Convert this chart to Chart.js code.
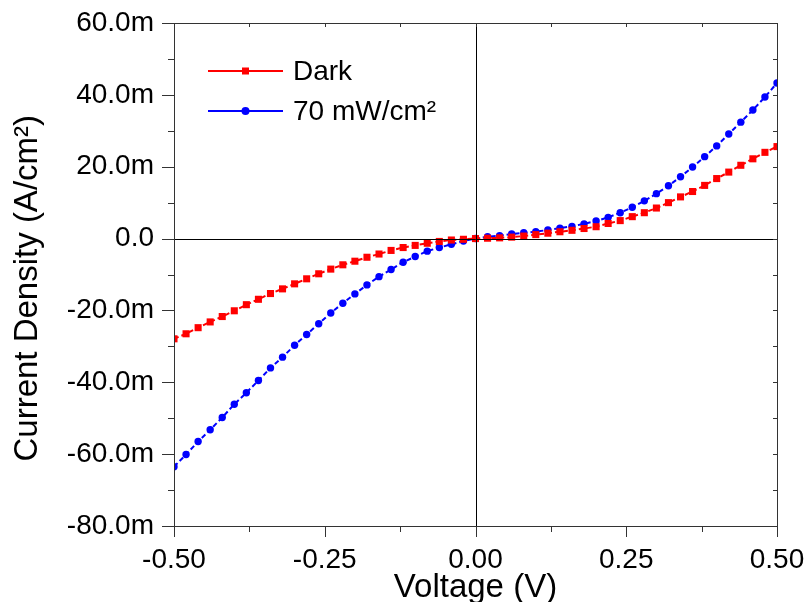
<!DOCTYPE html>
<html>
<head>
<meta charset="utf-8">
<script src="https://cdn.jsdelivr.net/npm/chart.js@4.4.0/dist/chart.umd.min.js"></script>
<style>
  html, body { margin: 0; padding: 0; background: #fff; }
  #wrap { width: 806px; height: 602px; }
</style>
</head>
<body>
<div id="wrap"><canvas id="ivChart" width="806" height="602"></canvas></div>
<script>
    "use strict";

    // Voltage (V), every 0.02 V
    var voltage = [];
    for (var i = 0; i <= 50; i++) voltage.push(Math.round((-0.5 + i * 0.02) * 100) / 100);

    // Current density in mA/cm2 (axis labels use the "m" suffix)
    var darkJ = [-27.9, -26.5, -24.8, -23.2, -21.7, -20.1, -18.4, -16.9, -15.3, -14.0,
                 -12.6, -11.2, -9.8, -8.5, -7.3, -6.3, -5.2, -4.3, -3.3, -2.5,
                 -1.9, -1.3, -0.8, -0.4, -0.2, 0.0,
                 0.1, 0.2, 0.4, 0.7, 1.1, 1.5, 1.9, 2.3, 2.8, 3.3,
                 4.2, 5.0, 6.1, 7.2, 8.5, 10.0, 11.6, 13.1, 14.8, 16.7,
                 18.5, 20.4, 22.2, 24.0, 25.6];
    var lightJ = [-63.5, -60.1, -56.5, -53.2, -49.8, -46.1, -42.9, -39.5, -36.0, -33.0,
                  -29.7, -26.7, -23.7, -20.7, -18.0, -15.4, -12.9, -10.6, -8.6, -6.6,
                  -5.0, -3.5, -2.5, -1.6, -0.7, 0.0,
                  0.5, 0.8, 1.3, 1.6, 1.9, 2.4, 2.9, 3.4, 4.1, 4.9,
                  5.9, 7.2, 8.7, 10.5, 12.5, 14.7, 17.2, 19.9, 22.8, 25.8,
                  29.1, 32.4, 35.8, 39.4, 43.3];

    var seriesNames = ["Dark", "70 mW/cm\u00B2"];
    var xTicks = [-0.5, -0.25, 0, 0.25, 0.5];
    var yTicks = [-80, -60, -40, -20, 0, 20, 40, 60];

    function toPoints(xs, ys) {
        return xs.map(function (x, k) { return {x: x, y: ys[k]}; });
    }

    // frame ticks, zero lines and legend
    var framePlugin = {
        id: "frame",
        afterDatasetsDraw: function (chart) {
            var ctx = chart.ctx;
            var a = chart.chartArea;
            var xs = chart.scales.x, ys = chart.scales.y;
            ctx.save();
            ctx.strokeStyle = "#000";
            ctx.lineWidth = 1;

            // zero lines
            var x0 = Math.round(xs.getPixelForValue(0)) + 0.5;
            var y0 = Math.round(ys.getPixelForValue(0)) + 0.5;
            ctx.beginPath();
            ctx.moveTo(x0, a.top); ctx.lineTo(x0, a.bottom);
            ctx.moveTo(a.left, y0); ctx.lineTo(a.right, y0);
            ctx.stroke();

            // border
            ctx.strokeStyle = "#333";
            ctx.strokeRect(Math.round(a.left) + 0.5, Math.round(a.top) + 0.5,
                Math.round(a.right - a.left), Math.round(a.bottom - a.top));

            ctx.beginPath();
            // x ticks
            for (var v = -0.5; v <= 0.5001; v += 0.125) {
                var px = Math.round(xs.getPixelForValue(v)) + 0.5;
                var major = Math.abs(v / 0.25 - Math.round(v / 0.25)) < 1e-6;
                var len = major ? 11 : 6;
                ctx.moveTo(px, a.bottom); ctx.lineTo(px, a.bottom + len);
                ctx.moveTo(px, a.top); ctx.lineTo(px, a.top + 4);
            }
            // y ticks
            for (var w = -80; w <= 60; w += 10) {
                var py = Math.round(ys.getPixelForValue(w)) + 0.5;
                var lenY = (w % 20 === 0) ? 12 : 6;
                ctx.moveTo(a.left - lenY, py); ctx.lineTo(a.left, py);
                ctx.moveTo(a.right, py); ctx.lineTo(a.right - 4, py);
            }
            ctx.stroke();

            // legend
            var rows = [
                {color: "#ff0000", style: "rect", y: 71},
                {color: "#0000ff", style: "circle", y: 111}
            ];
            ctx.font = "28px 'Liberation Sans', Arial, sans-serif";
            ctx.textBaseline = "middle";
            rows.forEach(function (r, k) {
                ctx.strokeStyle = r.color;
                ctx.fillStyle = r.color;
                ctx.lineWidth = 2;
                ctx.beginPath();
                ctx.moveTo(208, r.y); ctx.lineTo(283, r.y);
                ctx.stroke();
                if (r.style === "rect") {
                    ctx.fillRect(242, r.y - 3.5, 7, 7);
                } else {
                    ctx.beginPath();
                    ctx.arc(245.5, r.y, 4, 0, Math.PI * 2);
                    ctx.fill();
                }
                ctx.fillStyle = "#000";
                ctx.fillText(seriesNames[k], 293, r.y + 1);
            });
            ctx.restore();
        }
    };

    var ctx1 = document.getElementById("ivChart").getContext("2d");
    var ivChart = new Chart(ctx1, {
        type: "line",
        data: {
            datasets: [{
                    label: seriesNames[0],
                    data: toPoints(voltage, darkJ),
                    borderColor: "#ff0000",
                    backgroundColor: "#ff0000",
                    borderWidth: 2,
                    borderDash: [5, 3],
                    pointStyle: "rect",
                    pointRadius: 5,
                    pointBorderWidth: 0,
                    tension: 0
                },
                {
                    label: seriesNames[1],
                    data: toPoints(voltage, lightJ),
                    borderColor: "#0000ff",
                    backgroundColor: "#0000ff",
                    borderWidth: 2,
                    borderDash: [5, 3],
                    pointStyle: "circle",
                    pointRadius: 3.7,
                    pointBorderWidth: 0,
                    tension: 0
                }
            ]
        },
        options: {
            responsive: false,
            animation: false,
            layout: {padding: {top: 23, right: 29, left: 0, bottom: 0}},
            plugins: {
                legend: {display: false},
                tooltip: {enabled: false}
            },
            scales: {
                x: {
                    type: "linear",
                    min: -0.5,
                    max: 0.5,
                    grid: {display: false, drawTicks: true, tickLength: 17},
                    border: {display: false},
                    afterBuildTicks: function (s) {
                        s.ticks = xTicks.map(function (v) { return {value: v}; });
                    },
                    afterFit: function (s) { s.height = 76; },
                    ticks: {
                        color: "#000",
                        padding: 0,
                        maxRotation: 0,
                        font: {family: "'Liberation Sans', Arial", size: 28},
                        callback: function (v) { return Number(v).toFixed(2); }
                    },
                    title: {
                        display: true,
                        text: "Voltage (V)",
                        color: "#000",
                        padding: {top: 0, bottom: -6},
                        font: {family: "'Liberation Sans', Arial", size: 33}
                    }
                },
                y: {
                    type: "linear",
                    min: -80,
                    max: 60,
                    grid: {display: false, drawTicks: true, tickLength: 20},
                    border: {display: false},
                    afterBuildTicks: function (s) {
                        s.ticks = yTicks.map(function (v) { return {value: v}; });
                    },
                    afterFit: function (s) { s.width = 174; },
                    ticks: {
                        color: "#000",
                        padding: 0,
                        font: {family: "'Liberation Sans', Arial", size: 28},
                        callback: function (v) { return v === 0 ? "0.0" : Number(v).toFixed(1) + "m"; }
                    },
                    title: {
                        display: true,
                        text: "Current Density (A/cm\u00B2)   ",
                        color: "#000",
                        padding: {top: 8, bottom: 0},
                        font: {family: "'Liberation Sans', Arial", size: 33}
                    }
                }
            }
        },
        plugins: [framePlugin]
    });
</script>
</body>
</html>
